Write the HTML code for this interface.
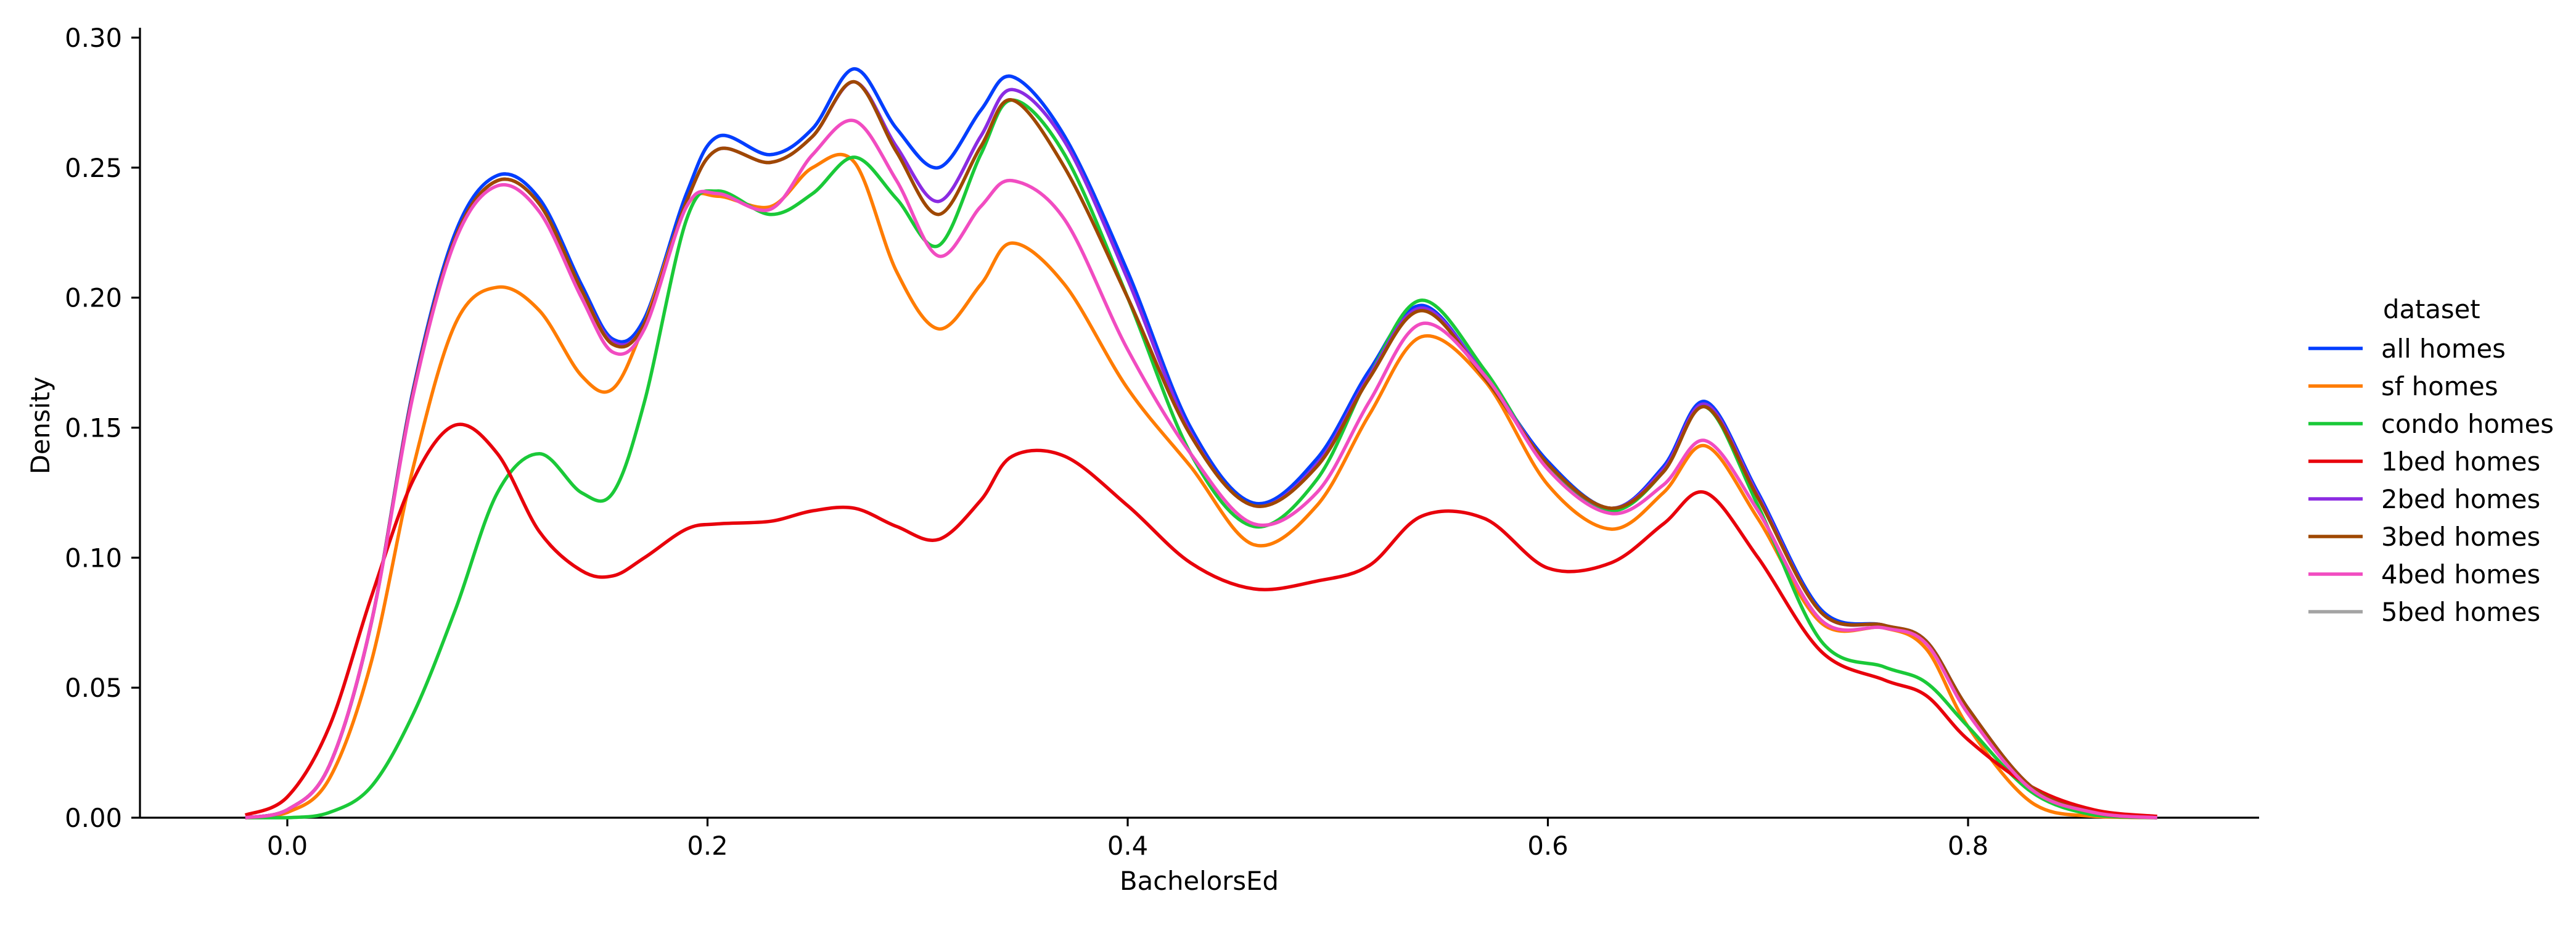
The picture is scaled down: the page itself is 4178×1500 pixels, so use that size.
<!DOCTYPE html>
<html><head><meta charset="utf-8"><style>
html,body{margin:0;padding:0;background:#fff}
svg{display:block}
text{font-family:"DejaVu Sans","Liberation Sans",sans-serif;font-size:41.7px;fill:#000}
</style></head><body>
<svg id="chart" width="4178" height="1500" viewBox="0 0 4178 1500" xmlns="http://www.w3.org/2000/svg">
<g id="axes"></g>
<g id="series"></g>
<g id="legend"></g>
</svg>
<script>
const xs = [-0.02,0,0.02,0.04,0.06,0.08,0.10,0.12,0.14,0.155,0.17,0.19,0.205,0.23,0.25,0.27,0.29,0.31,0.33,0.345,0.37,0.40,0.43,0.46,0.49,0.515,0.54,0.57,0.60,0.63,0.655,0.675,0.70,0.73,0.76,0.78,0.80,0.83,0.86,0.89];
const allHomes = [0,0.003,0.02,0.075,0.165,0.225,0.247,0.238,0.205,0.184,0.192,0.24,0.262,0.255,0.265,0.288,0.265,0.25,0.272,0.285,0.262,0.21,0.15,0.121,0.138,0.172,0.197,0.17,0.137,0.119,0.135,0.16,0.125,0.08,0.074,0.068,0.042,0.012,0.002,0];
const sfHomes = [0,0.002,0.015,0.06,0.135,0.19,0.204,0.195,0.17,0.165,0.19,0.235,0.239,0.235,0.25,0.252,0.21,0.188,0.205,0.221,0.205,0.165,0.135,0.105,0.12,0.155,0.185,0.168,0.128,0.111,0.125,0.143,0.115,0.075,0.073,0.065,0.035,0.006,0.0005,0];
const condoHomes = [0,0,0.002,0.012,0.04,0.08,0.125,0.14,0.125,0.125,0.16,0.23,0.241,0.232,0.24,0.254,0.238,0.22,0.255,0.276,0.255,0.2,0.14,0.112,0.13,0.17,0.199,0.172,0.135,0.118,0.133,0.158,0.12,0.068,0.058,0.052,0.035,0.01,0.001,0];
const bed1Homes = [0.001,0.008,0.035,0.085,0.13,0.151,0.14,0.11,0.095,0.093,0.1,0.111,0.113,0.114,0.118,0.119,0.112,0.107,0.122,0.139,0.139,0.12,0.098,0.088,0.091,0.097,0.116,0.115,0.096,0.098,0.113,0.125,0.1,0.064,0.053,0.047,0.03,0.012,0.003,0.0005];
const bed2Homes = [0,0.003,0.02,0.075,0.164,0.223,0.245,0.236,0.203,0.183,0.19,0.237,0.257,0.252,0.262,0.283,0.258,0.237,0.262,0.28,0.26,0.207,0.148,0.12,0.136,0.17,0.196,0.17,0.136,0.119,0.134,0.159,0.124,0.079,0.074,0.068,0.042,0.012,0.002,0];
const bed3Homes = [0,0.003,0.02,0.075,0.164,0.223,0.245,0.236,0.203,0.182,0.19,0.237,0.257,0.252,0.262,0.283,0.256,0.232,0.258,0.276,0.25,0.2,0.147,0.12,0.135,0.169,0.195,0.169,0.136,0.119,0.133,0.158,0.123,0.079,0.074,0.068,0.042,0.012,0.002,0];
const bed4Homes = [0,0.003,0.02,0.075,0.163,0.222,0.243,0.233,0.2,0.179,0.188,0.235,0.24,0.234,0.255,0.268,0.245,0.216,0.235,0.245,0.23,0.18,0.14,0.113,0.125,0.16,0.19,0.17,0.134,0.117,0.128,0.145,0.118,0.076,0.073,0.067,0.04,0.011,0.002,0];
const bed5Homes = allHomes.slice();
const seriesNames = ["5bed homes","all homes","sf homes","condo homes","1bed homes","2bed homes","3bed homes","4bed homes"];
const legendOrder = ["all homes","sf homes","condo homes","1bed homes","2bed homes","3bed homes","4bed homes","5bed homes"];
const xTicks = [0.0,0.2,0.4,0.6,0.8];
const xTickLabels = ["0.0","0.2","0.4","0.6","0.8"];
const yTicks = [0,0.05,0.10,0.15,0.20,0.25,0.30];
const yTickLabels = ["0.00","0.05","0.10","0.15","0.20","0.25","0.30"];

const colors = {"all homes":"#023eff","sf homes":"#ff7c00","condo homes":"#1ac938","1bed homes":"#e8000b","2bed homes":"#8b2be2","3bed homes":"#9f4800","4bed homes":"#f14cc1","5bed homes":"#a3a3a3"};
const dataMap = {"all homes":allHomes,"sf homes":sfHomes,"condo homes":condoHomes,"1bed homes":bed1Homes,"2bed homes":bed2Homes,"3bed homes":bed3Homes,"4bed homes":bed4Homes,"5bed homes":bed5Homes};

const X0 = 466, XS = (3192-466)/0.8;
const Y0 = 1326, YS = (1326-61)/0.30;
function sx(v){return X0 + v*XS;}
function sy(v){return Y0 - v*YS;}
const NS = "http://www.w3.org/2000/svg";
function mk(tag, attrs, parent){const e=document.createElementNS(NS,tag);for(const k in attrs)e.setAttribute(k,attrs[k]);parent.appendChild(e);return e;}

const axes = document.getElementById('axes');
let l = mk('line',{x1:227,y1:45,x2:227,y2:1326,stroke:'#000','stroke-width':3.2},axes);


l = mk('line',{x1:227,y1:1326,x2:3664,y2:1326,stroke:'#000','stroke-width':3.2},axes);


xTicks.forEach((t,i)=>{
  const tk = mk('line',{x1:sx(t),y1:1326,x2:sx(t),y2:1340,stroke:'#000','stroke-width':3.2},axes);
  
  
  const tx = mk('text',{x:sx(t),y:1386,'text-anchor':'middle'},axes);
  tx.textContent = xTickLabels[i];
  
  
});
yTicks.forEach((t,i)=>{
  const tk = mk('line',{x1:213,y1:sy(t),x2:227,y2:sy(t),stroke:'#000','stroke-width':3.2},axes);
  
  
  const tx = mk('text',{x:198,y:sy(t)+15,'text-anchor':'end'},axes);
  tx.textContent = yTickLabels[i];
  
  
});
let at = mk('text',{x:1945,y:1443,'text-anchor':'middle'},axes);
at.textContent = 'BachelorsEd';


at = mk('text',{x:0,y:0,'text-anchor':'middle',transform:'translate(80,690) rotate(-90)'},axes);
at.textContent = 'Density';



function pathFor(vals){
  const p = xs.map((x,i)=>[sx(x),sy(vals[i])]);
  let d = 'M'+p[0][0].toFixed(1)+','+p[0][1].toFixed(1);
  for(let i=0;i<p.length-1;i++){
    const p0=p[Math.max(0,i-1)],p1=p[i],p2=p[i+1],p3=p[Math.min(p.length-1,i+2)];
    const c1=[p1[0]+(p2[0]-p0[0])/6,p1[1]+(p2[1]-p0[1])/6];
    const c2=[p2[0]-(p3[0]-p1[0])/6,p2[1]-(p3[1]-p1[1])/6];
    d+=' C'+c1[0].toFixed(1)+','+Math.min(Y0,c1[1]).toFixed(1)+' '+c2[0].toFixed(1)+','+Math.min(Y0,c2[1]).toFixed(1)+' '+p2[0].toFixed(1)+','+p2[1].toFixed(1);
  }
  return d;
}
const sg = document.getElementById('series');
seriesNames.forEach(n=>{
  const pth = mk('path',{d:pathFor(dataMap[n]),fill:'none',stroke:colors[n],'stroke-width':5.5,'stroke-linejoin':'round'},sg);
  
  
});

const lg = document.getElementById('legend');
let tt = mk('text',{x:3865,y:516},lg);
tt.textContent = 'dataset';


legendOrder.forEach((n,i)=>{
  const y = 565 + i*61;
  const ln = mk('line',{x1:3744,y1:y,x2:3832,y2:y,stroke:colors[n],'stroke-width':5.5},lg);
  
  
  const tx = mk('text',{x:3862,y:y+15},lg);
  tx.textContent = n;
  
  
});
</script>
</body></html>
